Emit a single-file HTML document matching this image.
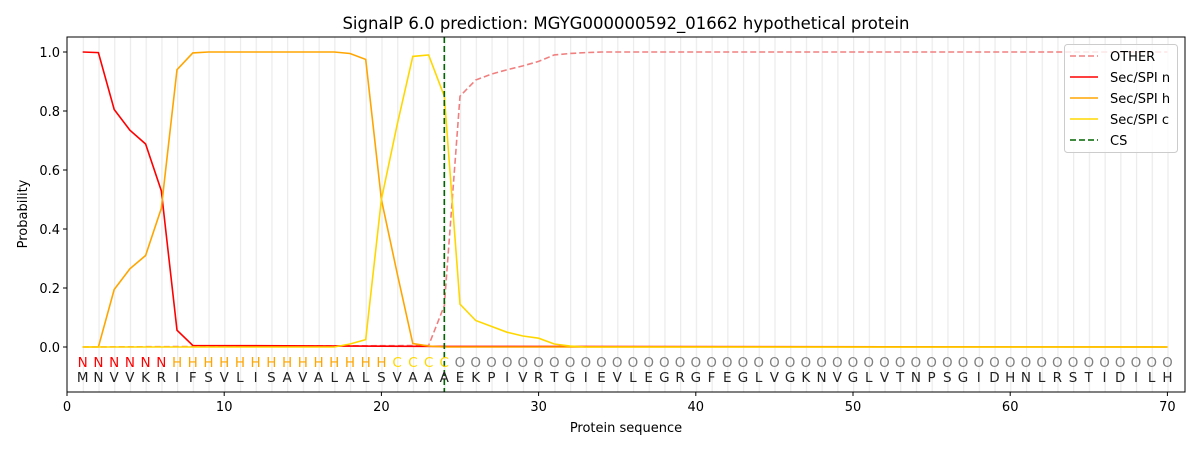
<!DOCTYPE html>
<html><head><meta charset="utf-8"><style>body{margin:0;background:#fff}svg{display:block;font-family:"DejaVu Sans","Liberation Sans",sans-serif}</style></head><body>
<svg width="1200" height="450" viewBox="0 0 1200 450" xmlns="http://www.w3.org/2000/svg">
<defs><pattern id="g" patternUnits="userSpaceOnUse" x="82.72" y="0" width="15.72" height="450"><rect x="0" y="0" width="1.2" height="450" fill="#ebebeb"/></pattern></defs>
<rect x="82" y="37" width="1087" height="355" fill="url(#g)"/>
<text x="626" y="29" font-size="16.5" text-anchor="middle" fill="#000">SignalP 6.0 prediction: MGYG000000592_01662 hypothetical protein</text>
<g fill="none" stroke-width="1.6">
<polyline stroke="#f08080" stroke-dasharray="6,3" points="82.7,347 428.6,345.5 444.3,305.7 460,96.2 475.7,80 491.4,74.1 507.2,69.7 522.9,65.9 538.6,61.4 554.3,54.9 570,53.5 585.8,52.6 601.5,52 1167.4,52"/>
<polyline stroke="#ff0000" points="82.7,52 98.4,52.6 114.2,109.5 129.9,130.2 145.6,144 161.3,190.7 177,330.2 192.8,345.5 444.3,346.4 1167.4,347"/>
<polyline stroke="#ffa500" points="82.7,347 98.4,347 114.2,289.5 129.9,268.8 145.6,255.5 161.3,208.4 177,69.7 192.8,52.9 208.5,52 334.2,52 350,53.5 365.7,59.4 381.4,199.5 397.1,273 412.8,343.5 428.6,346.1 444.3,347 1167.4,347"/>
<polyline stroke="#ffd700" points="82.7,347 334.2,347 350,344 365.7,339.6 381.4,199.5 397.1,125 412.8,56.4 428.6,55 444.3,96.2 460,304.2 475.7,320.5 491.4,326.4 507.2,332.3 522.9,336 538.6,338.2 554.3,344 570,346.1 585.8,347 1167.4,347"/>
<line x1="444.3" y1="37" x2="444.3" y2="392" stroke="#006400" stroke-dasharray="6,3"/>
</g>
<g font-size="13.5" text-anchor="middle">
<text y="367" fill="#ff0000" x="82.72 98.44 114.16 129.88 145.6 161.32">NNNNNN</text>
<text y="367" fill="#ffa500" x="177.04 192.76 208.48 224.2 239.92 255.64 271.36 287.08 302.8 318.52 334.24 349.96 365.68 381.4">HHHHHHHHHHHHHH</text>
<text y="367" fill="#ffd700" x="397.12 412.84 428.56 444.28">CCCC</text>
<text y="367" fill="#808080" x="460 475.72 491.44 507.16 522.88 538.6 554.32 570.04 585.76 601.48 617.2 632.92 648.64 664.36 680.08 695.8 711.52 727.24 742.96 758.68 774.4 790.12 805.84 821.56 837.28 853 868.72 884.44 900.16 915.88 931.6 947.32 963.04 978.76 994.48 1010.2 1025.92 1041.64 1057.36 1073.08 1088.8 1104.52 1120.24 1135.96 1151.68 1167.4">OOOOOOOOOOOOOOOOOOOOOOOOOOOOOOOOOOOOOOOOOOOOOO</text>
<text y="382" fill="#222" x="82.72 98.44 114.16 129.88 145.6 161.32 177.04 192.76 208.48 224.2 239.92 255.64 271.36 287.08 302.8 318.52 334.24 349.96 365.68 381.4 397.12 412.84 428.56 444.28 460 475.72 491.44 507.16 522.88 538.6 554.32 570.04 585.76 601.48 617.2 632.92 648.64 664.36 680.08 695.8 711.52 727.24 742.96 758.68 774.4 790.12 805.84 821.56 837.28 853 868.72 884.44 900.16 915.88 931.6 947.32 963.04 978.76 994.48 1010.2 1025.92 1041.64 1057.36 1073.08 1088.8 1104.52 1120.24 1135.96 1151.68 1167.4">MNVVKRIFSVLISAVALALSVAAAEKPIVRTGIEVLEGRGFEGLVGKNVGLVTNPSGIDHNLRSTIDILH</text>
</g>
<rect x="67" y="37" width="1118" height="355" fill="none" stroke="#000" stroke-width="1"/>
<g stroke="#000"><line x1="67" y1="392" x2="67" y2="396"/><line x1="224.2" y1="392" x2="224.2" y2="396"/><line x1="381.4" y1="392" x2="381.4" y2="396"/><line x1="538.6" y1="392" x2="538.6" y2="396"/><line x1="695.8" y1="392" x2="695.8" y2="396"/><line x1="853" y1="392" x2="853" y2="396"/><line x1="1010.2" y1="392" x2="1010.2" y2="396"/><line x1="1167.4" y1="392" x2="1167.4" y2="396"/>
<line x1="63" y1="347" x2="67" y2="347"/><line x1="63" y1="288" x2="67" y2="288"/><line x1="63" y1="229" x2="67" y2="229"/><line x1="63" y1="170" x2="67" y2="170"/><line x1="63" y1="111" x2="67" y2="111"/><line x1="63" y1="52" x2="67" y2="52"/></g>
<g font-size="13" fill="#000" text-anchor="middle"><text x="67" y="411">0</text><text x="224.2" y="411">10</text><text x="381.4" y="411">20</text><text x="538.6" y="411">30</text><text x="695.8" y="411">40</text><text x="853" y="411">50</text><text x="1010.2" y="411">60</text><text x="1167.4" y="411">70</text>
<text x="626" y="432">Protein sequence</text></g>
<g font-size="13" fill="#000" text-anchor="end"><text x="60" y="352">0.0</text><text x="60" y="293">0.2</text><text x="60" y="234">0.4</text><text x="60" y="175">0.6</text><text x="60" y="116">0.8</text><text x="60" y="57">1.0</text></g>
<text transform="translate(27,214) rotate(-90)" font-size="13" text-anchor="middle">Probability</text>
<rect x="1064.5" y="44.5" width="113" height="108" rx="3" fill="#fff" fill-opacity="0.8" stroke="#ccc"/>
<g stroke-width="1.6"><line x1="1070" y1="56" x2="1098" y2="56" stroke="#f08080" stroke-dasharray="6,3"/><line x1="1070" y1="77" x2="1098" y2="77" stroke="#f00"/><line x1="1070" y1="98" x2="1098" y2="98" stroke="#ffa500"/><line x1="1070" y1="119" x2="1098" y2="119" stroke="#ffd700"/><line x1="1070" y1="140" x2="1098" y2="140" stroke="#006400" stroke-dasharray="6,3"/></g>
<g font-size="13" fill="#000"><text x="1110" y="61">OTHER</text><text x="1110" y="82">Sec/SPI n</text><text x="1110" y="103">Sec/SPI h</text><text x="1110" y="124">Sec/SPI c</text><text x="1110" y="145">CS</text></g>
</svg>
</body></html>
